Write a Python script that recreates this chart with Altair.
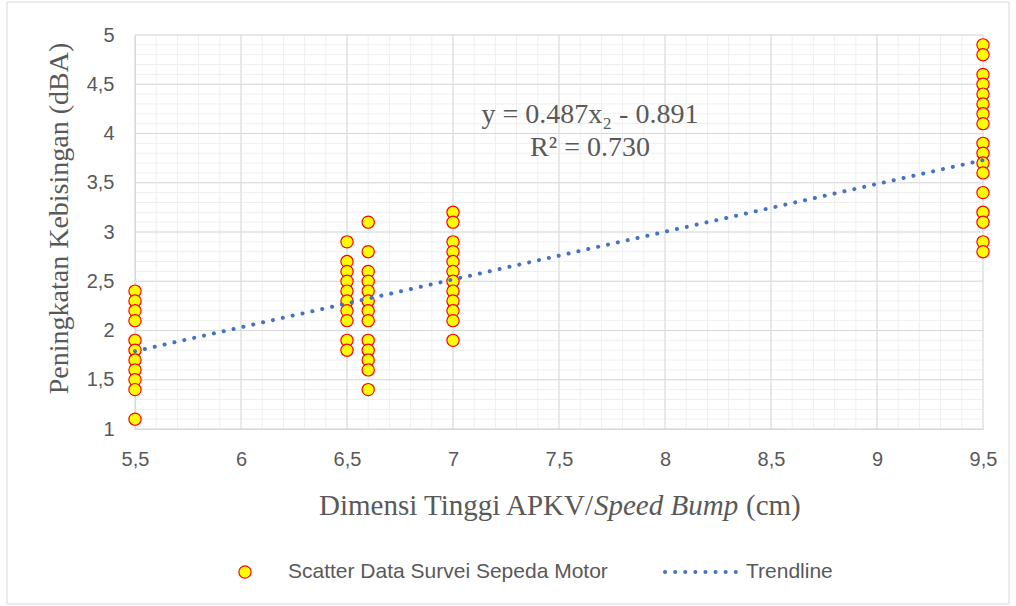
import altair as alt
import pandas as pd

# ---- data ----
heights = [5.5, 6.5, 6.6, 7.0, 9.5]
noise_55 = [2.4, 2.3, 2.2, 2.1, 1.9, 1.8, 1.7, 1.6, 1.5, 1.4, 1.1]
noise_65 = [2.9, 2.7, 2.6, 2.5, 2.4, 2.3, 2.2, 2.1, 1.9, 1.8]
noise_66 = [3.1, 2.8, 2.6, 2.5, 2.4, 2.3, 2.2, 2.1, 1.9, 1.8, 1.7, 1.6, 1.4]
noise_70 = [3.2, 3.1, 2.9, 2.8, 2.7, 2.6, 2.5, 2.4, 2.3, 2.2, 2.1, 1.9]
noise_95 = [4.9, 4.8, 4.6, 4.5, 4.4, 4.3, 4.2, 4.1, 3.9, 3.8, 3.7, 3.6, 3.4, 3.2, 3.1, 2.9, 2.8]

trend_x = [5.5, 9.5]
trend_y = [1.79, 3.73]

equation_lines = ["y = 0.487x\u2082 - 0.891", "R\u00b2 = 0.730"]
x_title_parts = ["Dimensi Tinggi APKV/", "Speed Bump", "(cm)"]
y_title = "Peningkatan Kebisingan (dBA)"
legend_labels = ["Scatter Data Survei Sepeda Motor", "Trendline"]

x_major = [5.5, 6.0, 6.5, 7.0, 7.5, 8.0, 8.5, 9.0, 9.5]
y_major = [1.0, 1.5, 2.0, 2.5, 3.0, 3.5, 4.0, 4.5, 5.0]
x_minor = [round(5.5 + 0.1 * i, 1) for i in range(41)]
y_minor = [round(1.0 + 0.1 * i, 1) for i in range(41)]

rows = []
for h, vals in zip(heights, [noise_55, noise_65, noise_66, noise_70, noise_95]):
    for v in vals:
        rows.append({"x": h, "y": v})
df = pd.DataFrame(rows)
trend_df = pd.DataFrame({"x": trend_x, "y": trend_y})

W, H = 848, 394
TXT = "#595959"
SERIF = "Liberation Serif"
SANS = "Liberation Sans"

lab = "replace(toString(round(datum.value*10)/10), '.', ',')"

xscale = alt.Scale(domain=[5.5, 9.5], nice=False, zero=False)
yscale = alt.Scale(domain=[1, 5], nice=False, zero=False)

xaxis = alt.Axis(values=x_major, grid=False, ticks=False,
                 labelExpr=lab, labelOverlap=False, labelFlush=False,
                 labelFont=SANS, labelFontSize=20, labelColor=TXT, labelPadding=20,
                 domainColor="#bfbfbf", title=None)
yaxis = alt.Axis(values=y_major, grid=False, ticks=False,
                 labelExpr=lab, labelOverlap=False, labelFlush=False,
                 labelFont=SANS, labelFontSize=20, labelColor=TXT, labelPadding=21,
                 domainColor="#bfbfbf", title=y_title, titleFont=SERIF,
                 titleFontSize=28, titleFontWeight="normal", titleColor=TXT,
                 titleAngle=270, titleX=-68, titleY=183, titleAlign="center",
                 titleBaseline="alphabetic")

# grid lines (minor first, then major)
vminor = alt.Chart(pd.DataFrame({"g": x_minor})).mark_rule(color="#efefef", strokeWidth=1).encode(
    x=alt.X("g:Q", scale=xscale), y=alt.value(0), y2=alt.value(H))
hminor = alt.Chart(pd.DataFrame({"g": y_minor})).mark_rule(color="#efefef", strokeWidth=1).encode(
    y=alt.Y("g:Q", scale=yscale), x=alt.value(0), x2=alt.value(W))
vmajor = alt.Chart(pd.DataFrame({"g": x_major})).mark_rule(color="#d9d9d9", strokeWidth=1).encode(
    x=alt.X("g:Q", scale=xscale), y=alt.value(0), y2=alt.value(H))
hmajor = alt.Chart(pd.DataFrame({"g": y_major})).mark_rule(color="#d9d9d9", strokeWidth=1).encode(
    y=alt.Y("g:Q", scale=yscale), x=alt.value(0), x2=alt.value(W))

points = alt.Chart(df).mark_circle(
    color="#ffff00", stroke="#ff0000", strokeWidth=1.2, size=150, opacity=1
).encode(
    x=alt.X("x:Q", scale=xscale, axis=xaxis),
    y=alt.Y("y:Q", scale=yscale, axis=yaxis),
)

trend = alt.Chart(trend_df).mark_line(
    color="#4472c4", strokeWidth=4, strokeDash=[0.1, 10], strokeCap="round"
).encode(x=alt.X("x:Q", scale=xscale), y=alt.Y("y:Q", scale=yscale))

eq1 = alt.Chart(pd.DataFrame({"t": [equation_lines[0]]})).mark_text(
    font=SERIF, fontSize=28, color=TXT, align="center", baseline="alphabetic"
).encode(x=alt.value(455), y=alt.value(88), text="t:N")
eq2 = alt.Chart(pd.DataFrame({"t": [equation_lines[1]]})).mark_text(
    font=SERIF, fontSize=28, color=TXT, align="center", baseline="alphabetic"
).encode(x=alt.value(455), y=alt.value(121), text="t:N")

XT_Y = 480
xt1 = alt.Chart(pd.DataFrame({"t": [x_title_parts[0]]})).mark_text(
    font=SERIF, fontSize=29, color=TXT, align="right", baseline="alphabetic"
).encode(x=alt.value(458), y=alt.value(XT_Y), text="t:N")
xt2 = alt.Chart(pd.DataFrame({"t": [x_title_parts[1]]})).mark_text(
    font=SERIF, fontSize=29, fontStyle="italic", color=TXT, align="left", baseline="alphabetic"
).encode(x=alt.value(459), y=alt.value(XT_Y), text="t:N")
xt3 = alt.Chart(pd.DataFrame({"t": [x_title_parts[2]]})).mark_text(
    font=SERIF, fontSize=29, color=TXT, align="left", baseline="alphabetic"
).encode(x=alt.value(611), y=alt.value(XT_Y), text="t:N")

LG_Y = 537
leg_pt = alt.Chart(pd.DataFrame({"t": [legend_labels[0]]})).mark_circle(
    color="#ffff00", stroke="#ff0000", strokeWidth=1.2, size=150, opacity=1
).encode(x=alt.value(110), y=alt.value(LG_Y))
leg_t1 = alt.Chart(pd.DataFrame({"t": [legend_labels[0]]})).mark_text(
    font=SANS, fontSize=21, color=TXT, align="left", baseline="middle"
).encode(x=alt.value(153), y=alt.value(LG_Y), text="t:N")
leg_ln = alt.Chart(pd.DataFrame({"t": [legend_labels[1]]})).mark_rule(
    color="#4472c4", strokeWidth=4, strokeDash=[0.1, 10], strokeCap="round"
).encode(x=alt.value(530), x2=alt.value(605), y=alt.value(LG_Y))
leg_t2 = alt.Chart(pd.DataFrame({"t": [legend_labels[1]]})).mark_text(
    font=SANS, fontSize=21, color=TXT, align="left", baseline="middle"
).encode(x=alt.value(611), y=alt.value(LG_Y), text="t:N")

border = alt.Chart(pd.DataFrame({"t": ["b"]})).mark_rect(
    fill=None, stroke="#d9d9d9", strokeWidth=1
).encode(x=alt.value(-128), x2=alt.value(874), y=alt.value(-33), y2=alt.value(569))

chart = alt.layer(
    border, vminor, hminor, vmajor, hmajor, points, trend,
    eq1, eq2, xt1, xt2, xt3, leg_pt, leg_t1, leg_ln, leg_t2
).properties(
    width=W, height=H,
    autosize=alt.AutoSizeParams(type="none"),
    padding={"left": 135, "top": 35, "right": 33, "bottom": 177},
    background="white",
).configure_view(strokeWidth=0)

chart.save("out.html", embed_options={"renderer": "svg", "actions": False})
